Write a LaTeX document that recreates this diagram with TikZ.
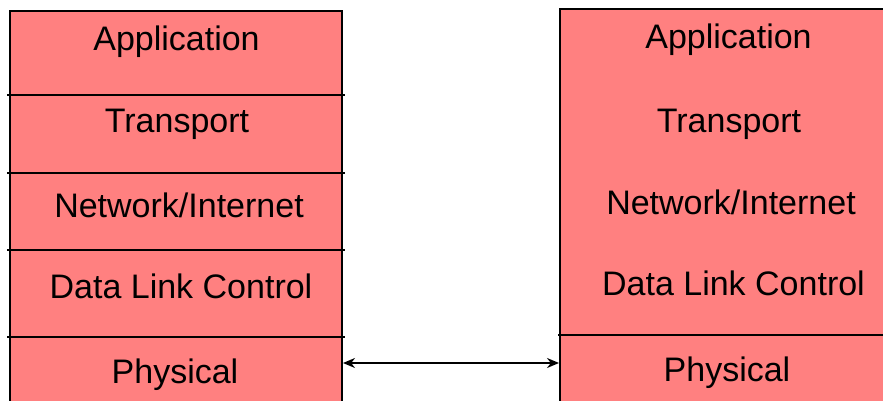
\documentclass[tikz,border=0pt]{standalone}
\usepackage{fontspec}
\setmainfont{Liberation Sans}
\usetikzlibrary{arrows.meta}
\definecolor{layerfill}{RGB}{255,128,128}
\tikzset{
  stackbox/.style={fill=layerfill, draw=black, line width=2pt},
  divider/.style={draw=black, line width=2pt},
  layertext/.style={anchor=base, inner sep=0pt, font=\fontsize{34}{40}\selectfont},
  link/.style={line width=2pt, {Stealth[length=12pt,width=10pt]}-{Stealth[length=12pt,width=10pt]}}
}
\begin{document}
\begin{tikzpicture}[x=1pt,y=-1pt]
\useasboundingbox (0,0) rectangle (883,401);
\clip (0,0) rectangle (883,401);

% left protocol stack
\path[stackbox] (10,11) rectangle (342,430);
\foreach \yy in {95,173,250,337} \draw[divider] (7,\yy) -- (345,\yy);
\node[layertext] (lapp)  at (176.5,51)  {Application};
\node[layertext] (ltra)  at (177,132)   {Transport};
\node[layertext] (lnet)  at (179,217)   {Network/Internet};
\node[layertext] (ldlc)  at (181,298)   {Data Link Control};
\node[layertext] (lphy)  at (175,383)   {Physical};

% right protocol stack
\path[stackbox] (560,9) rectangle (898,430);
\draw[divider] (558,335) -- (898,335);
\node[layertext] (rapp)  at (728.5,49)  {Application};
\node[layertext] (rtra)  at (729,132)   {Transport};
\node[layertext] (rnet)  at (731,214)   {Network/Internet};
\node[layertext] (rdlc)  at (733.5,295) {Data Link Control};
\node[layertext] (rphy)  at (727,381)   {Physical};

% physical link between the two stacks
\coordinate (lport) at (343,363);
\coordinate (rport) at (559,363);
\draw[link] (lport) -- (rport);
\end{tikzpicture}
\end{document}
